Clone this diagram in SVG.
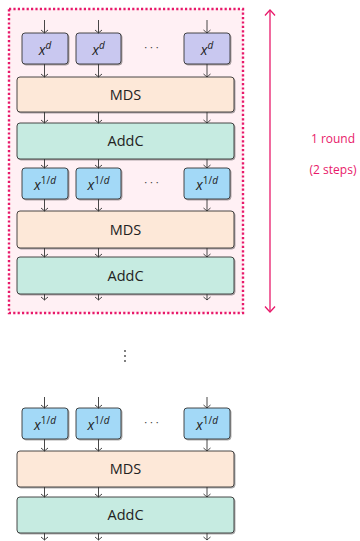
<svg xmlns="http://www.w3.org/2000/svg" width="360" height="541" viewBox="0 0 360 541">
<defs>
<marker id="ah" markerWidth="8" markerHeight="8" refX="4" refY="4" orient="auto" markerUnits="userSpaceOnUse">
<path d="M0.5,1 Q3,3 4,4 Q5,3 7.5,1" fill="none" stroke="#333" stroke-width="0.9" transform="rotate(-90 4 4)"/>
</marker>
<marker id="ahp" markerWidth="14" markerHeight="14" refX="7" refY="7" orient="auto-start-reverse" markerUnits="userSpaceOnUse">
<path d="M1.5,2 Q5.5,5.5 7,7 Q5.5,8.5 1.5,12" fill="none" stroke="#e8196a" stroke-width="1.3"/>
</marker>
<filter id="sh" x="-10%" y="-10%" width="130%" height="140%">
<feDropShadow dx="1" dy="1" stdDeviation="0.6" flood-color="#000" flood-opacity="0.35"/>
</filter>
</defs>
<style>
text{font-family:"Open Sans","DejaVu Sans",sans-serif;fill:#222;text-anchor:middle}
.lbl{font-size:14.5px}
.mx{font-size:14px}
.it{font-style:italic}
.sup{font-size:10px}
.xd rect{fill:#c9c8f0;stroke:#333;stroke-width:0.9;filter:url(#sh)}
.xi rect{fill:#a3d9f7;stroke:#333;stroke-width:0.9;filter:url(#sh)}
.mds rect{fill:#fde8d8;stroke:#333;stroke-width:0.9;filter:url(#sh)}
.addc rect{fill:#c6ebe1;stroke:#333;stroke-width:0.9;filter:url(#sh)}
.conn line{stroke:#333;stroke-width:0.9;marker-end:url(#ah)}
.dots{fill:#444}
.pink{fill:#e8196a;font-size:12px}
</style>

<rect x="9" y="9" width="234" height="304" fill="#fff0f4" stroke="#e8196a" stroke-width="2.4" stroke-dasharray="2.2,2.2"/>

<g id="round-arrow">
<line x1="270" y1="10" x2="270" y2="312" stroke="#e8196a" stroke-width="1.3" marker-start="url(#ahp)" marker-end="url(#ahp)"/>
<text class="pink" x="333" y="143">1 round</text>
<text class="pink" x="333" y="174">(2 steps)</text>
</g>

<g id="xd1" class="xd"><rect x="22" y="33" width="46" height="31" rx="3"/><text class="mx" x="45" y="55"><tspan class="it">x</tspan><tspan class="sup it" dy="-6">d</tspan></text></g>
<g id="xd2" class="xd"><rect x="76" y="33" width="45" height="31" rx="3"/><text class="mx" x="98.5" y="55"><tspan class="it">x</tspan><tspan class="sup it" dy="-6">d</tspan></text></g>
<g id="xd3" class="xd"><rect x="184" y="33" width="46" height="31" rx="3"/><text class="mx" x="207" y="55"><tspan class="it">x</tspan><tspan class="sup it" dy="-6">d</tspan></text></g>
<text class="dots" x="151.5" y="51" font-size="11">· · ·</text>

<g id="mds1" class="mds"><rect x="17" y="77" width="217" height="35" rx="3"/><text class="lbl" x="125.5" y="100">MDS</text></g>
<g id="addc1" class="addc"><rect x="17" y="123" width="217" height="36" rx="3"/><text class="lbl" x="125.5" y="146">AddC</text></g>

<g id="xi1" class="xi"><rect x="22" y="168" width="46" height="31" rx="3"/><text class="mx" x="45" y="190"><tspan class="it">x</tspan><tspan class="sup" dy="-6">1/<tspan class="it">d</tspan></tspan></text></g>
<g id="xi2" class="xi"><rect x="76" y="168" width="45" height="31" rx="3"/><text class="mx" x="98.5" y="190"><tspan class="it">x</tspan><tspan class="sup" dy="-6">1/<tspan class="it">d</tspan></tspan></text></g>
<g id="xi3" class="xi"><rect x="184" y="168" width="46" height="31" rx="3"/><text class="mx" x="207" y="190"><tspan class="it">x</tspan><tspan class="sup" dy="-6">1/<tspan class="it">d</tspan></tspan></text></g>
<text class="dots" x="151.5" y="186" font-size="11">· · ·</text>

<g id="mds2" class="mds"><rect x="17" y="211" width="217" height="37" rx="3"/><text class="lbl" x="125.5" y="234.5">MDS</text></g>
<g id="addc2" class="addc"><rect x="17" y="257" width="217" height="37" rx="3"/><text class="lbl" x="125.5" y="280.5">AddC</text></g>

<g id="vdots" class="dots"><circle cx="125" cy="351" r="0.9"/><circle cx="125" cy="356" r="0.9"/><circle cx="125" cy="361" r="0.9"/></g>

<g id="xi4" class="xi"><rect x="22" y="408" width="46" height="31" rx="3"/><text class="mx" x="45" y="430"><tspan class="it">x</tspan><tspan class="sup" dy="-6">1/<tspan class="it">d</tspan></tspan></text></g>
<g id="xi5" class="xi"><rect x="76" y="408" width="45" height="31" rx="3"/><text class="mx" x="98.5" y="430"><tspan class="it">x</tspan><tspan class="sup" dy="-6">1/<tspan class="it">d</tspan></tspan></text></g>
<g id="xi6" class="xi"><rect x="184" y="408" width="46" height="31" rx="3"/><text class="mx" x="207" y="430"><tspan class="it">x</tspan><tspan class="sup" dy="-6">1/<tspan class="it">d</tspan></tspan></text></g>
<text class="dots" x="151.5" y="426" font-size="11">· · ·</text>

<g id="mds3" class="mds"><rect x="17" y="451" width="217" height="36" rx="3"/><text class="lbl" x="125.5" y="474">MDS</text></g>
<g id="addc3" class="addc"><rect x="17" y="497" width="217" height="36" rx="3"/><text class="lbl" x="125.5" y="520">AddC</text></g>

<g id="connectors" class="conn">
<line x1="44.5" y1="20" x2="44.5" y2="33"/><line x1="98.5" y1="20" x2="98.5" y2="33"/><line x1="207" y1="20" x2="207" y2="33"/>
<line x1="44.5" y1="64" x2="44.5" y2="77"/><line x1="98.5" y1="64" x2="98.5" y2="77"/><line x1="207" y1="64" x2="207" y2="77"/>
<line x1="44.5" y1="112" x2="44.5" y2="123"/><line x1="98.5" y1="112" x2="98.5" y2="123"/><line x1="207" y1="112" x2="207" y2="123"/>
<line x1="44.5" y1="159" x2="44.5" y2="168"/><line x1="98.5" y1="159" x2="98.5" y2="168"/><line x1="207" y1="159" x2="207" y2="168"/>
<line x1="44.5" y1="199" x2="44.5" y2="211"/><line x1="98.5" y1="199" x2="98.5" y2="211"/><line x1="207" y1="199" x2="207" y2="211"/>
<line x1="44.5" y1="248" x2="44.5" y2="257"/><line x1="98.5" y1="248" x2="98.5" y2="257"/><line x1="207" y1="248" x2="207" y2="257"/>
<line x1="44.5" y1="294" x2="44.5" y2="300"/><line x1="98.5" y1="294" x2="98.5" y2="300"/><line x1="207" y1="294" x2="207" y2="300"/>
<line x1="44.5" y1="397" x2="44.5" y2="408"/><line x1="98.5" y1="397" x2="98.5" y2="408"/><line x1="207" y1="397" x2="207" y2="408"/>
<line x1="44.5" y1="439" x2="44.5" y2="451"/><line x1="98.5" y1="439" x2="98.5" y2="451"/><line x1="207" y1="439" x2="207" y2="451"/>
<line x1="44.5" y1="487" x2="44.5" y2="497"/><line x1="98.5" y1="487" x2="98.5" y2="497"/><line x1="207" y1="487" x2="207" y2="497"/>
<line x1="44.5" y1="533" x2="44.5" y2="540"/><line x1="98.5" y1="533" x2="98.5" y2="540"/><line x1="207" y1="533" x2="207" y2="540"/>
</g>
</svg>
